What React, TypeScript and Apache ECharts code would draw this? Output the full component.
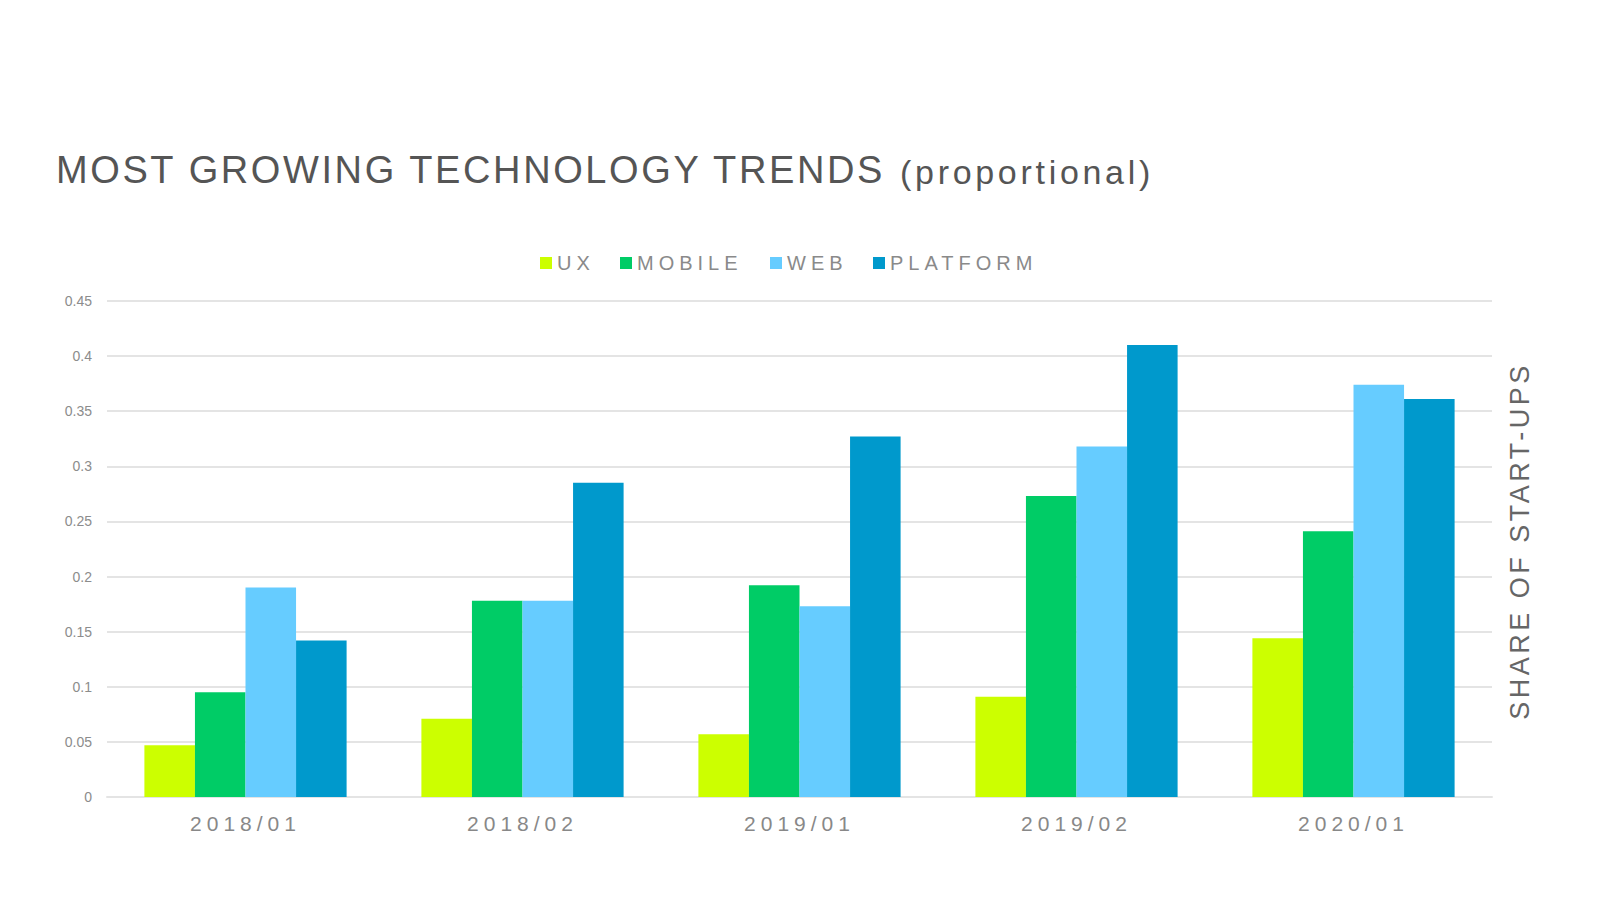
import React, { useEffect, useRef } from 'react';
import * as echarts from 'echarts';

const categories = ['2018/01', '2018/02', '2019/01', '2019/02', '2020/01'];
const seriesNames = ['UX', 'MOBILE', 'WEB', 'PLATFORM'];
const uxValues = [0.047, 0.071, 0.057, 0.091, 0.144];
const mobileValues = [0.095, 0.178, 0.192, 0.273, 0.241];
const webValues = [0.19, 0.178, 0.173, 0.318, 0.374];
const platformValues = [0.142, 0.285, 0.327, 0.41, 0.361];
const seriesColors = ['#ccff00', '#00cc66', '#66ccff', '#0099cc'];
const yMin = 0;
const yMax = 0.45;
const yInterval = 0.05;

const FONT = '"Liberation Sans", Arial, sans-serif';
const legendLefts = [540, 620, 770, 873];

const css = `
.chartbox text[style*="38px"] { letter-spacing: 2.6px; }
.chartbox text[style*="34px"] { letter-spacing: 3.7px; }
.chartbox text[style*="20px"] { letter-spacing: 5px; }
.chartbox text[style*="21px"] { letter-spacing: 5px; }
.chartbox text[style*="27px"] { letter-spacing: 3.5px; }
`;

export default function App() {
  const ref = useRef<HTMLDivElement>(null);
  useEffect(() => {
    const chart = echarts.init(ref.current as HTMLDivElement, null, { renderer: 'svg' });
    const values = [uxValues, mobileValues, webValues, platformValues];
    const option = {
      animation: false,
      backgroundColor: '#ffffff',
      title: [
        {
          text: 'MOST GROWING TECHNOLOGY TRENDS',
          left: 56,
          top: 151,
          padding: 0,
          textStyle: { fontSize: 38, fontWeight: 'normal', color: '#555555', fontFamily: FONT },
        },
        {
          text: '(proportional)',
          left: 900,
          top: 155,
          padding: 0,
          textStyle: { fontSize: 34, fontWeight: 'normal', color: '#555555', fontFamily: FONT },
        },
      ],
      legend: seriesNames.map((name, i) => ({
        data: [name],
        left: legendLefts[i],
        top: 253,
        padding: 0,
        itemWidth: 12,
        itemHeight: 12,
        icon: 'rect',
        selectedMode: false,
        textStyle: { fontSize: 20, color: '#8a8a8a', fontFamily: FONT },
      })),
      grid: { left: 107, right: 108, top: 301, bottom: 103, containLabel: false },
      xAxis: {
        type: 'category',
        data: categories,
        axisTick: { show: false },
        axisLine: { show: true, lineStyle: { color: '#e4e4e4', width: 2 } },
        axisLabel: { margin: 16, fontSize: 21, color: '#888888', fontFamily: FONT },
      },
      yAxis: {
        type: 'value',
        min: yMin,
        max: yMax,
        interval: yInterval,
        axisLine: { show: false },
        axisTick: { show: false },
        axisLabel: { margin: 15, fontSize: 14, color: '#8c8c8c', fontFamily: FONT },
        splitLine: { lineStyle: { color: '#e4e4e4', width: 2 } },
      },
      graphic: [
        {
          type: 'text',
          x: 1520,
          y: 541,
          rotation: Math.PI / 2,
          style: {
            text: 'SHARE OF START-UPS',
            fontSize: 27,
            fontFamily: FONT,
            fill: '#666666',
            align: 'center',
            verticalAlign: 'middle',
            textAlign: 'center',
            textVerticalAlign: 'middle',
          },
        },
      ],
      series: seriesNames.map((name, i) => ({
        name,
        type: 'bar',
        data: values[i],
        barGap: '0%',
        barCategoryGap: '27%',
        itemStyle: { color: seriesColors[i] },
      })),
    };
    chart.setOption(option);
    return () => chart.dispose();
  }, []);
  return (
    <>
      <style>{css}</style>
      <div
        ref={ref}
        className="chartbox"
        style={{ position: 'fixed', left: 0, top: 0, width: 1600, height: 900, background: '#fff' }}
      />
    </>
  );
}
